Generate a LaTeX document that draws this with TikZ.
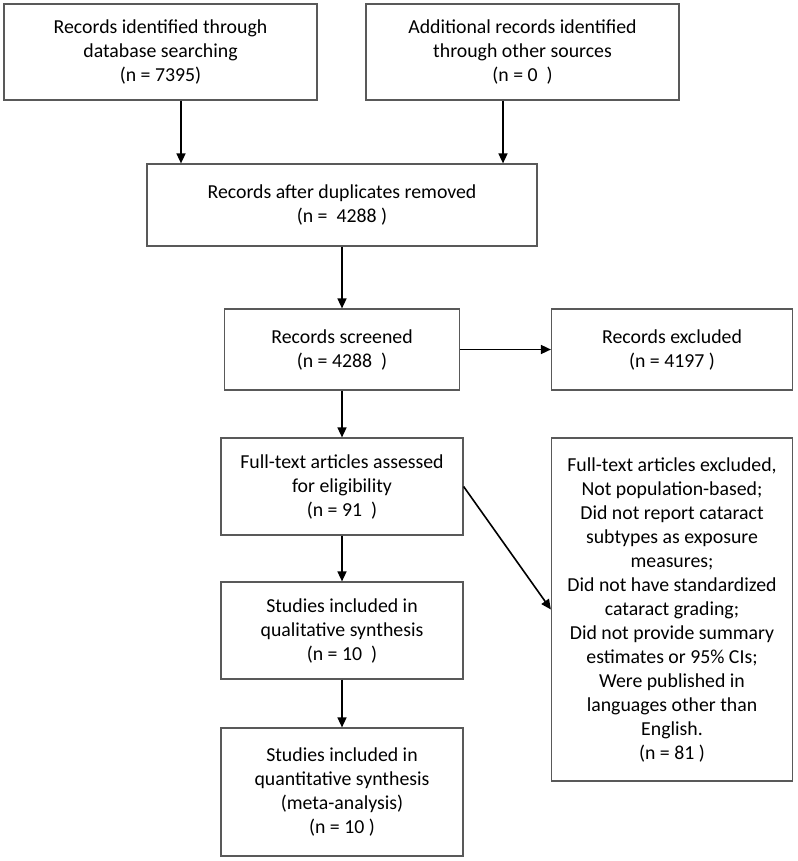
\documentclass[tikz,border=0pt]{standalone}
\usepackage{fontspec}
\setmainfont{Carlito}
\usetikzlibrary{arrows.meta, positioning}

\begin{document}
\begin{tikzpicture}[x=1pt,y=-1pt,node distance=140pt,on grid,auto]
    \tikzstyle{box}=[shape=rectangle,draw=black!65,line width=1.2pt,align=center,inner sep=0pt,font=\fontsize{19.8}{24}\selectfont]
    \tikzstyle{wide}=[box,minimum width=313pt,minimum height=96pt]
    \tikzstyle{narrow}=[box,minimum width=242pt,minimum height=97pt]
    \tikzstyle{link}=[draw,line width=1.6pt,-{Triangle[length=10pt,width=9pt]}]

    \useasboundingbox (0,0) rectangle (797,861);

    \node[wide] (ident) at (160.5,52) {Records identified through\\database searching\\(n = 7395)};
    \node[wide, right=362pt of ident] (other) {Additional records identified\\through other sources\\(n = 0\ \ )};

    \node[box, minimum width=390pt, minimum height=82pt] (dup) at (342,205) {Records after duplicates removed\\(n = \ 4288 )};
    \node[box, minimum width=235pt, minimum height=81pt, below=144.5pt of dup] (screen) {Records screened\\(n = 4288\ \ )};
    \node[box, minimum width=241pt, minimum height=81pt, right=330pt of screen] (excl) {Records excluded\\(n = 4197 )};

    \node[narrow, below=137pt of screen] (full) {Full-text articles assessed\\for eligibility\\(n = 91\ \ )};
    \node[box, minimum width=241pt, minimum height=343pt, below=260pt of excl] (fullexcl) {Full-text articles excluded,\\Not population-based;\\Did not report cataract\\subtypes as exposure\\measures;\\Did not have standardized\\cataract grading;\\Did not provide summary\\estimates or 95\% CIs;\\Were published in\\languages other than\\English.\\(n = 81 )};
    \node[narrow, below=144pt of full] (qual) {Studies included in\\qualitative synthesis\\(n = 10\ \ )};
    \node[box, minimum width=242pt, minimum height=128pt, below=161.5pt of qual] (quant) {Studies included in\\quantitative synthesis\\(meta-analysis)\\(n = 10 )};

    \coordinate (identout) at ([xshift=20.5pt]ident.south);
    \coordinate (otherout) at ([xshift=-19.5pt]other.south);

    \path
    (identout) edge[link] (identout |- dup.north)
    (otherout) edge[link] (otherout |- dup.north)
    (dup) edge[link] (screen)
    (screen) edge[link] (excl)
    (screen) edge[link] (full)
    (full.east) edge[link] (fullexcl.west)
    (full) edge[link] (qual)
    (qual) edge[link] (quant)
    ;

\end{tikzpicture}
\end{document}
